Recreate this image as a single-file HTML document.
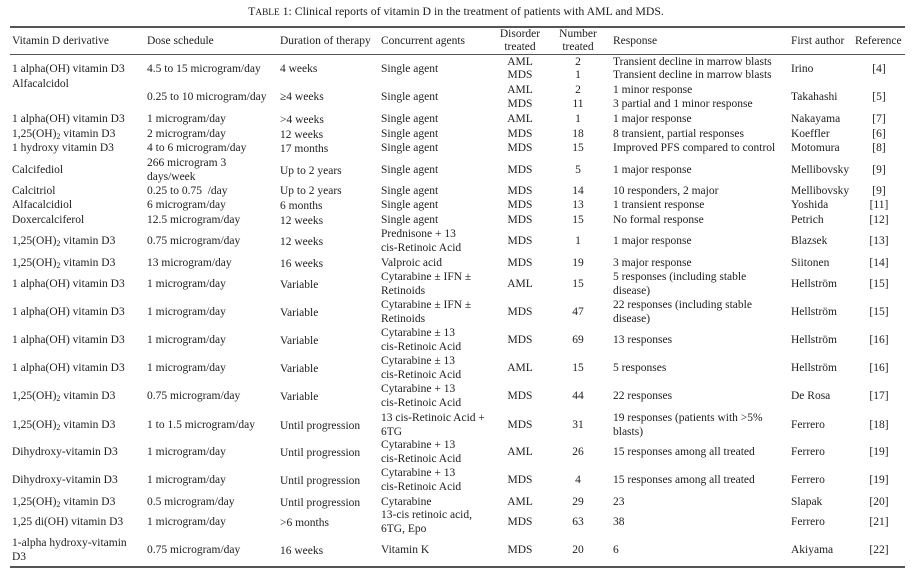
<!DOCTYPE html>
<html><head><meta charset="utf-8"><style>
body{margin:0;background:#fff;}
#w{position:relative;width:919px;height:571px;overflow:hidden;font-family:"Liberation Serif",serif;font-size:11.5px;color:#1e1e1e;}
#w div{position:absolute;white-space:nowrap;line-height:14px;transform:translateY(-50%);}
#w div.c{transform:translate(-50%,-50%);text-align:center;}
.r{position:absolute;left:10px;width:895px;background:#555;}
sub{font-size:8px;vertical-align:-2px;line-height:0}
</style></head><body><div id="w">
<div class="c" style="left:456px;top:12px;font-size:11.8px">T<span style="font-size:9.3px">ABLE</span> 1: Clinical reports of vitamin D in the treatment of patients with AML and MDS.</div>
<span class="r" style="top:26px;height:1.5px"></span>
<span class="r" style="top:54px;height:1px"></span>
<span class="r" style="top:566px;height:1.5px"></span>

<div style="left:12px;top:41px">Vitamin D derivative</div>
<div style="left:147px;top:41px">Dose schedule</div>
<div style="left:280px;top:41px">Duration of therapy</div>
<div style="left:381px;top:41px">Concurrent agents</div>
<div class="c" style="left:520px;top:41px;line-height:13px">Disorder<br>treated</div>
<div class="c" style="left:578px;top:41px;line-height:13px">Number<br>treated</div>
<div style="left:613px;top:41px">Response</div>
<div style="left:791px;top:41px">First author</div>
<div style="left:855px;top:41px">Reference</div>

<!-- R1 -->
<div style="left:12px;top:69px">1 alpha(OH) vitamin D3</div>
<div style="left:147px;top:69px">4.5 to 15 microgram/day</div>
<div style="left:280px;top:69px">4 weeks</div>
<div style="left:381px;top:69px">Single agent</div>
<div class="c" style="left:520px;top:62px">AML</div><div class="c" style="left:520px;top:75px">MDS</div>
<div class="c" style="left:578px;top:62px">2</div><div class="c" style="left:578px;top:75px">1</div>
<div style="left:613px;top:62px">Transient decline in marrow blasts</div>
<div style="left:613px;top:75px">Transient decline in marrow blasts</div>
<div style="left:791px;top:69px">Irino</div><div class="c" style="left:879px;top:69px">[4]</div>
<!-- R2 -->
<div style="left:12px;top:84px">Alfacalcidol</div>
<div style="left:147px;top:97px">0.25 to 10 microgram/day</div>
<div style="left:280px;top:97px">≥4 weeks</div>
<div style="left:381px;top:97px">Single agent</div>
<div class="c" style="left:520px;top:90px">AML</div><div class="c" style="left:520px;top:104px">MDS</div>
<div class="c" style="left:578px;top:90px">2</div><div class="c" style="left:578px;top:104px">11</div>
<div style="left:613px;top:90px">1 minor response</div>
<div style="left:613px;top:104px">3 partial and 1 minor response</div>
<div style="left:791px;top:97px">Takahashi</div><div class="c" style="left:879px;top:97px">[5]</div>
<!-- R3 -->
<div style="left:12px;top:119px">1 alpha(OH) vitamin D3</div><div style="left:147px;top:119px">1 microgram/day</div><div style="left:280px;top:120px">&gt;4 weeks</div><div style="left:381px;top:119px">Single agent</div><div class="c" style="left:520px;top:119px">AML</div><div class="c" style="left:578px;top:119px">1</div><div style="left:613px;top:119px">1 major response</div><div style="left:791px;top:119px">Nakayama</div><div class="c" style="left:879px;top:119px">[7]</div>
<!-- R4 -->
<div style="left:12px;top:134px">1,25(OH)<sub>2</sub> vitamin D3</div><div style="left:147px;top:134px">2 microgram/day</div><div style="left:280px;top:135px">12 weeks</div><div style="left:381px;top:134px">Single agent</div><div class="c" style="left:520px;top:134px">MDS</div><div class="c" style="left:578px;top:134px">18</div><div style="left:613px;top:134px">8 transient, partial responses</div><div style="left:791px;top:134px">Koeffler</div><div class="c" style="left:879px;top:134px">[6]</div>
<!-- R5 -->
<div style="left:12px;top:148px">1 hydroxy vitamin D3</div><div style="left:147px;top:148px">4 to 6 microgram/day</div><div style="left:280px;top:149px">17 months</div><div style="left:381px;top:148px">Single agent</div><div class="c" style="left:520px;top:148px">MDS</div><div class="c" style="left:578px;top:148px">15</div><div style="left:613px;top:148px">Improved PFS compared to control</div><div style="left:791px;top:148px">Motomura</div><div class="c" style="left:879px;top:148px">[8]</div>
<!-- R6 -->
<div style="left:12px;top:170px">Calcifediol</div><div style="left:147px;top:163px">266 microgram 3</div><div style="left:147px;top:177px">days/week</div><div style="left:280px;top:171px">Up to 2 years</div><div style="left:381px;top:170px">Single agent</div><div class="c" style="left:520px;top:170px">MDS</div><div class="c" style="left:578px;top:170px">5</div><div style="left:613px;top:170px">1 major response</div><div style="left:791px;top:170px">Mellibovsky</div><div class="c" style="left:879px;top:170px">[9]</div>
<!-- R7 -->
<div style="left:12px;top:191px">Calcitriol</div><div style="left:147px;top:191px">0.25 to 0.75 &nbsp;/day</div><div style="left:280px;top:191px">Up to 2 years</div><div style="left:381px;top:191px">Single agent</div><div class="c" style="left:520px;top:191px">MDS</div><div class="c" style="left:578px;top:191px">14</div><div style="left:613px;top:191px">10 responders, 2 major</div><div style="left:791px;top:191px">Mellibovsky</div><div class="c" style="left:879px;top:191px">[9]</div>
<!-- R8 -->
<div style="left:12px;top:205px">Alfacalcidiol</div><div style="left:147px;top:205px">6 microgram/day</div><div style="left:280px;top:206px">6 months</div><div style="left:381px;top:205px">Single agent</div><div class="c" style="left:520px;top:205px">MDS</div><div class="c" style="left:578px;top:205px">13</div><div style="left:613px;top:205px">1 transient response</div><div style="left:791px;top:205px">Yoshida</div><div class="c" style="left:879px;top:205px">[11]</div>
<!-- R9 -->
<div style="left:12px;top:220px">Doxercalciferol</div><div style="left:147px;top:220px">12.5 microgram/day</div><div style="left:280px;top:221px">12 weeks</div><div style="left:381px;top:220px">Single agent</div><div class="c" style="left:520px;top:220px">MDS</div><div class="c" style="left:578px;top:220px">15</div><div style="left:613px;top:220px">No formal response</div><div style="left:791px;top:220px">Petrich</div><div class="c" style="left:879px;top:220px">[12]</div>
<!-- R10 -->
<div style="left:12px;top:241px">1,25(OH)<sub>2</sub> vitamin D3</div><div style="left:147px;top:241px">0.75 microgram/day</div><div style="left:280px;top:242px">12 weeks</div><div style="left:381px;top:234px">Prednisone + 13</div><div style="left:381px;top:248px">cis-Retinoic Acid</div><div class="c" style="left:520px;top:241px">MDS</div><div class="c" style="left:578px;top:241px">1</div><div style="left:613px;top:241px">1 major response</div><div style="left:791px;top:241px">Blazsek</div><div class="c" style="left:879px;top:241px">[13]</div>
<!-- R11 -->
<div style="left:12px;top:263px">1,25(OH)<sub>2</sub> vitamin D3</div><div style="left:147px;top:263px">13 microgram/day</div><div style="left:280px;top:264px">16 weeks</div><div style="left:381px;top:263px">Valproic acid</div><div class="c" style="left:520px;top:263px">MDS</div><div class="c" style="left:578px;top:263px">19</div><div style="left:613px;top:263px">3 major response</div><div style="left:791px;top:263px">Siitonen</div><div class="c" style="left:879px;top:263px">[14]</div>
<!-- R12 -->
<div style="left:12px;top:284px">1 alpha(OH) vitamin D3</div><div style="left:147px;top:284px">1 microgram/day</div><div style="left:280px;top:285px">Variable</div><div style="left:381px;top:277px">Cytarabine ± IFN ±</div><div style="left:381px;top:291px">Retinoids</div><div class="c" style="left:520px;top:284px">AML</div><div class="c" style="left:578px;top:284px">15</div><div style="left:613px;top:277px">5 responses (including stable</div><div style="left:613px;top:291px">disease)</div><div style="left:791px;top:284px">Hellström</div><div class="c" style="left:879px;top:284px">[15]</div>
<!-- R13 -->
<div style="left:12px;top:312px">1 alpha(OH) vitamin D3</div><div style="left:147px;top:312px">1 microgram/day</div><div style="left:280px;top:313px">Variable</div><div style="left:381px;top:305px">Cytarabine ± IFN ±</div><div style="left:381px;top:319px">Retinoids</div><div class="c" style="left:520px;top:312px">MDS</div><div class="c" style="left:578px;top:312px">47</div><div style="left:613px;top:305px">22 responses (including stable</div><div style="left:613px;top:319px">disease)</div><div style="left:791px;top:312px">Hellström</div><div class="c" style="left:879px;top:312px">[15]</div>
<!-- R14 -->
<div style="left:12px;top:340px">1 alpha(OH) vitamin D3</div><div style="left:147px;top:340px">1 microgram/day</div><div style="left:280px;top:341px">Variable</div><div style="left:381px;top:333px">Cytarabine ± 13</div><div style="left:381px;top:347px">cis-Retinoic Acid</div><div class="c" style="left:520px;top:340px">MDS</div><div class="c" style="left:578px;top:340px">69</div><div style="left:613px;top:340px">13 responses</div><div style="left:791px;top:340px">Hellström</div><div class="c" style="left:879px;top:340px">[16]</div>
<!-- R15 -->
<div style="left:12px;top:368px">1 alpha(OH) vitamin D3</div><div style="left:147px;top:368px">1 microgram/day</div><div style="left:280px;top:369px">Variable</div><div style="left:381px;top:361px">Cytarabine ± 13</div><div style="left:381px;top:375px">cis-Retinoic Acid</div><div class="c" style="left:520px;top:368px">AML</div><div class="c" style="left:578px;top:368px">15</div><div style="left:613px;top:368px">5 responses</div><div style="left:791px;top:368px">Hellström</div><div class="c" style="left:879px;top:368px">[16]</div>
<!-- R16 -->
<div style="left:12px;top:396px">1,25(OH)<sub>2</sub> vitamin D3</div><div style="left:147px;top:396px">0.75 microgram/day</div><div style="left:280px;top:397px">Variable</div><div style="left:381px;top:389px">Cytarabine + 13</div><div style="left:381px;top:403px">cis-Retinoic Acid</div><div class="c" style="left:520px;top:396px">MDS</div><div class="c" style="left:578px;top:396px">44</div><div style="left:613px;top:396px">22 responses</div><div style="left:791px;top:396px">De Rosa</div><div class="c" style="left:879px;top:396px">[17]</div>
<!-- R17 -->
<div style="left:12px;top:425px">1,25(OH)<sub>2</sub> vitamin D3</div><div style="left:147px;top:425px">1 to 1.5 microgram/day</div><div style="left:280px;top:426px">Until progression</div><div style="left:381px;top:418px">13 cis-Retinoic Acid +</div><div style="left:381px;top:432px">6TG</div><div class="c" style="left:520px;top:425px">MDS</div><div class="c" style="left:578px;top:425px">31</div><div style="left:613px;top:418px">19 responses (patients with &gt;5%</div><div style="left:613px;top:432px">blasts)</div><div style="left:791px;top:425px">Ferrero</div><div class="c" style="left:879px;top:425px">[18]</div>
<!-- R18 -->
<div style="left:12px;top:452px">Dihydroxy-vitamin D3</div><div style="left:147px;top:452px">1 microgram/day</div><div style="left:280px;top:453px">Until progression</div><div style="left:381px;top:445px">Cytarabine + 13</div><div style="left:381px;top:459px">cis-Retinoic Acid</div><div class="c" style="left:520px;top:452px">AML</div><div class="c" style="left:578px;top:452px">26</div><div style="left:613px;top:452px">15 responses among all treated</div><div style="left:791px;top:452px">Ferrero</div><div class="c" style="left:879px;top:452px">[19]</div>
<!-- R19 -->
<div style="left:12px;top:480px">Dihydroxy-vitamin D3</div><div style="left:147px;top:480px">1 microgram/day</div><div style="left:280px;top:481px">Until progression</div><div style="left:381px;top:473px">Cytarabine + 13</div><div style="left:381px;top:487px">cis-Retinoic Acid</div><div class="c" style="left:520px;top:480px">MDS</div><div class="c" style="left:578px;top:480px">4</div><div style="left:613px;top:480px">15 responses among all treated</div><div style="left:791px;top:480px">Ferrero</div><div class="c" style="left:879px;top:480px">[19]</div>
<!-- R20 -->
<div style="left:12px;top:502px">1,25(OH)<sub>2</sub> vitamin D3</div><div style="left:147px;top:502px">0.5 microgram/day</div><div style="left:280px;top:503px">Until progression</div><div style="left:381px;top:502px">Cytarabine</div><div class="c" style="left:520px;top:502px">AML</div><div class="c" style="left:578px;top:502px">29</div><div style="left:613px;top:502px">23</div><div style="left:791px;top:502px">Slapak</div><div class="c" style="left:879px;top:502px">[20]</div>
<!-- R21 -->
<div style="left:12px;top:522px">1,25 di(OH) vitamin D3</div><div style="left:147px;top:522px">1 microgram/day</div><div style="left:280px;top:523px">&gt;6 months</div><div style="left:381px;top:515px">13-cis retinoic acid,</div><div style="left:381px;top:529px">6TG, Epo</div><div class="c" style="left:520px;top:522px">MDS</div><div class="c" style="left:578px;top:522px">63</div><div style="left:613px;top:522px">38</div><div style="left:791px;top:522px">Ferrero</div><div class="c" style="left:879px;top:522px">[21]</div>
<!-- R22 -->
<div style="left:12px;top:543px">1-alpha hydroxy-vitamin</div><div style="left:12px;top:557px">D3</div><div style="left:147px;top:550px">0.75 microgram/day</div><div style="left:280px;top:551px">16 weeks</div><div style="left:381px;top:550px">Vitamin K</div><div class="c" style="left:520px;top:550px">MDS</div><div class="c" style="left:578px;top:550px">20</div><div style="left:613px;top:550px">6</div><div style="left:791px;top:550px">Akiyama</div><div class="c" style="left:879px;top:550px">[22]</div>
</div></body></html>
